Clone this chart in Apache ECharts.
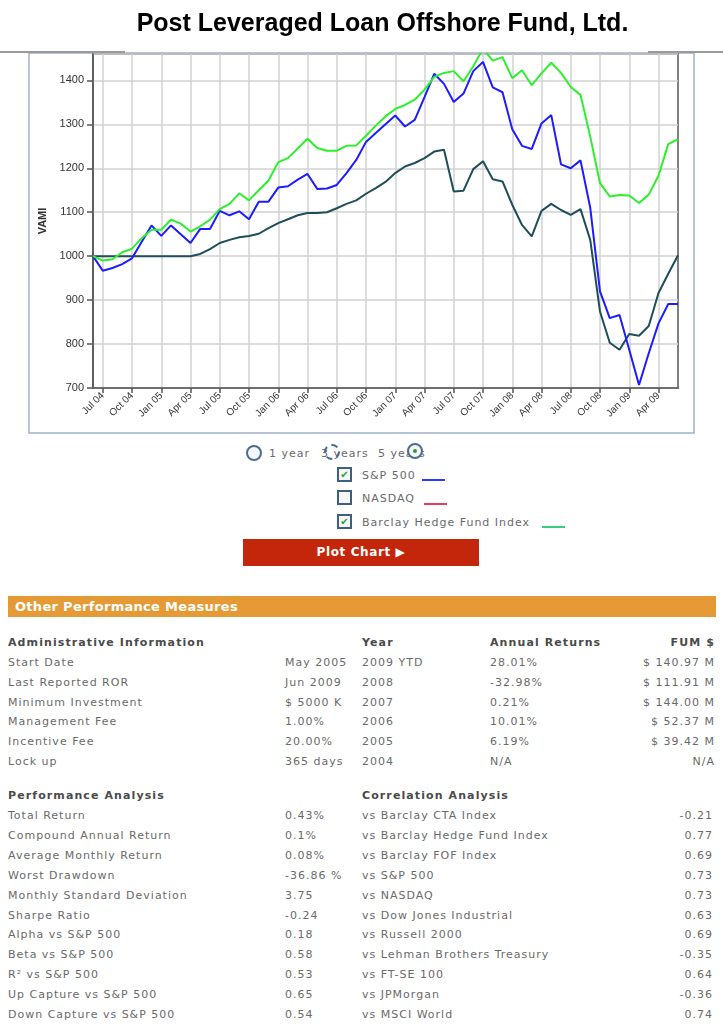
<!DOCTYPE html>
<html>
<head>
<meta charset="utf-8">
<script src="https://cdn.jsdelivr.net/npm/echarts@6/dist/echarts.min.js"></script>
<style>
  html, body { margin: 0; padding: 0; background: #fff; }
  #page { position: relative; width: 723px; height: 1026px; overflow: hidden; font-family: "DejaVu Sans", Verdana, sans-serif; }
  #chart { position: absolute; left: 0; top: 0; width: 723px; height: 440px; }
  .abs { position: absolute; white-space: nowrap; }
  .title { left: 0; width: 765px; top: 8px; text-align: center; font-family: "Liberation Sans", Arial, sans-serif; font-weight: bold; font-size: 25px; color: #000; }
  .hline { height: 2px; background: #9a9a9a; top: 51px; }
  .txt { font-size: 11px; letter-spacing: 1px; color: #6a6a6a; line-height: 20px; height: 20px; }
  .hdr { font-size: 11px; letter-spacing: 1.1px; font-weight: bold; color: #4a4a4a; line-height: 20px; height: 20px; }
  .radio { width: 12px; height: 12px; border: 2px solid #4d6d8c; border-radius: 50%; background: #f4f6f8; }
  .cbox { width: 11px; height: 11px; border: 2px solid #3d5f80; background: #f6f6f6; font-size: 10px; line-height: 11px; text-align: center; color: #2aa02a; font-weight: bold; }
  .swatch { height: 2px; }
  .btn { left: 243px; top: 539px; width: 236px; height: 27px; background: #c4260c; color: #fff; font-weight: bold; font-size: 12px; letter-spacing: 0.6px; line-height: 27px; text-align: center; }
  .bar { left: 8px; top: 596px; width: 708px; height: 21px; background: #e59a36; }
  .bar span { position: absolute; left: 7px; top: 0; line-height: 21px; color: #fff; font-weight: bold; font-size: 13px; letter-spacing: 0.3px; }
</style>
</head>
<body>
<div id="page">
  <div id="chart"></div>
  <div class="abs title">Post Leveraged Loan Offshore Fund, Ltd.</div>
  <div class="abs hline" style="left:0;width:125px"></div>
  <div class="abs hline" style="left:648px;width:75px"></div>
</div>
<script>
// monthly categories, Jun 04 .. Jun 09
var months = [
  'Jun 04','Jul 04','Aug 04','Sep 04','Oct 04','Nov 04','Dec 04',
  'Jan 05','Feb 05','Mar 05','Apr 05','May 05','Jun 05','Jul 05','Aug 05','Sep 05','Oct 05','Nov 05','Dec 05',
  'Jan 06','Feb 06','Mar 06','Apr 06','May 06','Jun 06','Jul 06','Aug 06','Sep 06','Oct 06','Nov 06','Dec 06',
  'Jan 07','Feb 07','Mar 07','Apr 07','May 07','Jun 07','Jul 07','Aug 07','Sep 07','Oct 07','Nov 07','Dec 07',
  'Jan 08','Feb 08','Mar 08','Apr 08','May 08','Jun 08','Jul 08','Aug 08','Sep 08','Oct 08','Nov 08','Dec 08',
  'Jan 09','Feb 09','Mar 09','Apr 09','May 09','Jun 09'
];

// VAMI values
var fund = [
  1000,1000,1000,1000,1000,1000,1000,
  1000,1000,1000,1000,1005,1016,1030,1037,1043,1046,1051,1064,
  1075,1084,1093,1098,1098,1100,1109,1119,1127,1142,1155,1169,
  1189,1204,1212,1223,1238,1242,1147,1149,1198,1216,1175,1170,
  1117,1071,1045,1103,1119,1105,1094,1107,1037,874,803,787,
  823,819,841,916,960,1002
];
var sp500 = [
  1000,967,973,982,995,1033,1070,
  1046,1070,1050,1030,1062,1062,1103,1093,1102,1084,1124,1124,
  1156,1159,1174,1187,1153,1154,1162,1189,1219,1260,1280,1300,
  1320,1295,1310,1362,1415,1392,1351,1370,1421,1442,1384,1373,
  1289,1251,1244,1302,1321,1209,1200,1218,1110,920,859,866,
  787,707,779,847,891,891
];
var barclay = [
  1000,990,993,1009,1017,1041,1060,
  1060,1083,1074,1056,1068,1083,1107,1119,1143,1127,1150,1172,
  1214,1223,1245,1267,1246,1240,1240,1251,1252,1274,1297,1318,
  1335,1344,1356,1379,1408,1417,1421,1398,1432,1472,1445,1453,
  1405,1423,1389,1416,1440,1417,1385,1367,1272,1166,1136,1139,
  1138,1121,1140,1183,1255,1266
];

var adminRows = [
  ['Start Date','May 2005'],
  ['Last Reported ROR','Jun 2009'],
  ['Minimum Investment','$ 5000 K'],
  ['Management Fee','1.00%'],
  ['Incentive Fee','20.00%'],
  ['Lock up','365 days']
];
var yearRows = [
  ['2009 YTD','28.01%','$ 140.97 M'],
  ['2008','-32.98%','$ 111.91 M'],
  ['2007','0.21%','$ 144.00 M'],
  ['2006','10.01%','$ 52.37 M'],
  ['2005','6.19%','$ 39.42 M'],
  ['2004','N/A','N/A']
];
var perfRows = [
  ['Total Return','0.43%'],
  ['Compound Annual Return','0.1%'],
  ['Average Monthly Return','0.08%'],
  ['Worst Drawdown','-36.86 %'],
  ['Monthly Standard Deviation','3.75'],
  ['Sharpe Ratio','-0.24'],
  ['Alpha vs S&P 500','0.18'],
  ['Beta vs S&P 500','0.58'],
  ['R\u00b2 vs S&P 500','0.53'],
  ['Up Capture vs S&P 500','0.65'],
  ['Down Capture vs S&P 500','0.54']
];
var corrRows = [
  ['vs Barclay CTA Index','-0.21'],
  ['vs Barclay Hedge Fund Index','0.77'],
  ['vs Barclay FOF Index','0.69'],
  ['vs S&P 500','0.73'],
  ['vs NASDAQ','0.73'],
  ['vs Dow Jones Industrial','0.63'],
  ['vs Russell 2000','0.69'],
  ['vs Lehman Brothers Treasury','-0.35'],
  ['vs FT-SE 100','0.64'],
  ['vs JPMorgan','-0.36'],
  ['vs MSCI World','0.74']
];

var page = document.getElementById('page');
function put(cls, text, left, cy, extra) {
  var d = document.createElement('div');
  d.className = 'abs ' + cls;
  d.textContent = text;
  d.style.left = left + 'px';
  d.style.top = (cy - 10) + 'px';
  if (extra) for (var k in extra) d.style[k] = extra[k];
  page.appendChild(d);
  return d;
}
function putRight(cls, text, right, cy) {
  return put(cls, text, 0, cy, {width: right + 'px', textAlign: 'right'});
}
function box(cls, left, top, extra) {
  var d = document.createElement('div');
  d.className = 'abs ' + cls;
  d.style.left = left + 'px';
  d.style.top = top + 'px';
  if (extra) for (var k in extra) d.style[k] = extra[k];
  page.appendChild(d);
  return d;
}

// period radios
put('txt', '1 year', 269, 454);
put('txt', '3 years', 321, 454);
put('txt', '5 years', 378, 454);
box('radio', 246, 445);
box('radio', 324, 444, {borderStyle: 'dashed', background: 'transparent'});
var r3 = box('radio', 407, 443);
r3.innerHTML = '<div style="width:4px;height:4px;border-radius:50%;background:#2a9a3a;margin:4px auto 0"></div>';

// benchmark checkboxes
box('cbox', 337, 467).textContent = '\u2714';
put('txt', 'S&P 500', 362, 476);
box('swatch', 422, 479, {width: '23px', background: '#2b3cff'});
box('cbox', 337, 490);
put('txt', 'NASDAQ', 362, 499);
box('swatch', 424, 503, {width: '23px', background: '#f0345a'});
box('cbox', 337, 514).textContent = '\u2714';
put('txt', 'Barclay Hedge Fund Index', 362, 523);
box('swatch', 542, 526, {width: '23px', background: '#3ccc80'});

var b = box('btn', 243, 539);
b.textContent = 'Plot Chart \u25b6';

var bar = box('bar', 8, 596);
bar.innerHTML = '<span>Other Performance Measures</span>';

// administrative / annual tables
put('hdr', 'Administrative Information', 8, 643);
put('hdr', 'Year', 362, 643);
put('hdr', 'Annual Returns', 490, 643);
putRight('hdr', 'FUM $', 715, 643);
adminRows.forEach(function (r, i) {
  var cy = 663 + i * 19.8;
  put('txt', r[0], 8, cy);
  put('txt', r[1], 285, cy);
});
yearRows.forEach(function (r, i) {
  var cy = 663 + i * 19.8;
  put('txt', r[0], 362, cy);
  put('txt', r[1], 490, cy);
  putRight('txt', r[2], 715, cy);
});

// performance / correlation tables
put('hdr', 'Performance Analysis', 8, 796);
put('hdr', 'Correlation Analysis', 362, 796);
perfRows.forEach(function (r, i) {
  var cy = 816 + i * 19.9;
  put('txt', r[0], 8, cy);
  put('txt', r[1], 285, cy);
});
corrRows.forEach(function (r, i) {
  var cy = 816 + i * 19.9;
  put('txt', r[0], 362, cy);
  putRight('txt', r[1], 713, cy);
});

// chart
var dom = document.getElementById('chart');
var myChart = echarts.init(dom);
var quarterTick = function (idx) { return idx % 3 === 1; };

var option = {
  animation: false,
  grid: {
    left: 93, top: 54, width: 585, height: 334,
    show: true, borderColor: '#555', borderWidth: 1.5
  },
  graphic: [{
    type: 'rect', z: -1,
    shape: {x: 29, y: 53, width: 665, height: 380},
    style: {fill: 'none', stroke: '#9eb0cc', lineWidth: 1.5}
  }],
  xAxis: {
    type: 'category',
    data: months,
    boundaryGap: false,
    axisLine: {lineStyle: {color: '#555', width: 1.5}},
    axisTick: {interval: quarterTick, length: 5, lineStyle: {color: '#555', width: 1.5}},
    axisLabel: {
      interval: quarterTick, rotate: 45, margin: 6,
      fontFamily: 'Liberation Sans', fontSize: 10, color: '#333'
    },
    splitLine: {show: true, interval: quarterTick, lineStyle: {color: '#d2d2d2', width: 1.5}}
  },
  yAxis: {
    type: 'value',
    min: 700, max: 1460, interval: 100,
    name: 'VAMI', nameLocation: 'middle', nameGap: 40,
    nameTextStyle: {fontFamily: 'Liberation Sans', fontWeight: 'bold', fontSize: 11, color: '#333'},
    axisLine: {show: true, lineStyle: {color: '#555', width: 1.5}},
    axisTick: {show: true, length: 6, lineStyle: {color: '#555', width: 1.5}},
    axisLabel: {
      margin: 9, showMaxLabel: false,
      formatter: function (v) { return String(v); },
      fontFamily: 'Liberation Sans', fontSize: 11, color: '#333'
    },
    splitLine: {lineStyle: {color: '#d2d2d2', width: 1.5}}
  },
  series: [
    {name: 'Post Leveraged Loan Offshore Fund', type: 'line', data: fund, symbol: 'none',
     lineStyle: {color: '#1f4e5b', width: 2}},
    {name: 'S&P 500', type: 'line', data: sp500, symbol: 'none',
     lineStyle: {color: '#1c1cff', width: 2}},
    {name: 'Barclay Hedge Fund Index', type: 'line', data: barclay, symbol: 'none',
     lineStyle: {color: '#2cf02c', width: 2}}
  ]
};

myChart.setOption(option);
window.onresize = myChart.resize;
</script>
</body>
</html>
